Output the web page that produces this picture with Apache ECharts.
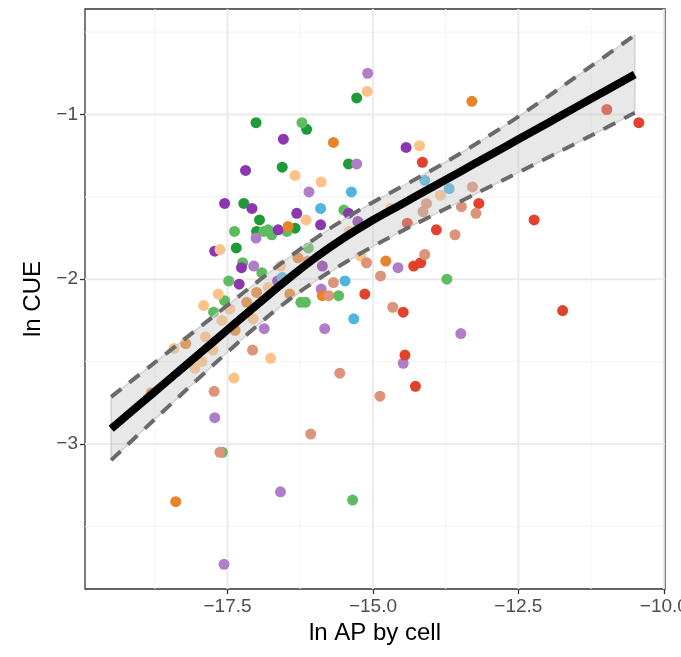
<!DOCTYPE html>
<html><head><meta charset="utf-8">
<script src="https://cdn.jsdelivr.net/npm/echarts@6/dist/echarts.min.js"></script>
<style>html,body{margin:0;padding:0;background:#fff}#c{width:681px;height:657px}</style>
</head><body><div id="c"></div>
<script>
// axis ticks / gridlines
const xTicks = [-17.5, -15, -12.5, -10];
const xMinorGrid = [-18.75, -16.25, -13.75, -11.25];
const yTicks = [-3, -2, -1];
const yMinorGrid = [-3.5, -2.5, -1.5, -0.5];
const xRange = [-19.95, -9.98];
const yRange = [-3.88, -0.36];

// smooth fit and confidence band
const fitX    = [-19.5,-19,-18.5,-18,-17.5,-17,-16.5,-16,-15.5,-15,-14.5,-14,-13.5,-13,-12.5,-12,-11.5,-11,-10.5];
const fitMid  = [-2.907,-2.757,-2.607,-2.457,-2.307,-2.157,-2.010,-1.872,-1.749,-1.641,-1.543,-1.445,-1.347,-1.249,-1.151,-1.053,-0.954,-0.856,-0.758];
const fitHigh = [-2.714,-2.575,-2.436,-2.297,-2.158,-2.019,-1.883,-1.755,-1.638,-1.533,-1.437,-1.340,-1.237,-1.128,-1.013,-0.893,-0.769,-0.644,-0.519];
const fitLow  = [-3.098,-2.932,-2.767,-2.603,-2.442,-2.285,-2.140,-2.014,-1.903,-1.801,-1.707,-1.617,-1.528,-1.440,-1.352,-1.263,-1.173,-1.082,-0.990];

// points by group [ln AP, ln CUE]
const darkGreen = [[-17.01,-1.05],[-16.14,-1.09],[-15.28,-0.90],[-15.42,-1.30],[-16.56,-1.32],[-17.22,-1.54],[-16.95,-1.64],[-17.00,-1.71],[-16.34,-1.69],[-17.35,-1.81]];
const lightGreen = [[-16.22,-1.05],[-15.50,-1.58],[-17.38,-1.71],[-16.80,-1.70],[-16.74,-1.73],[-16.88,-1.71],[-16.48,-1.71],[-17.24,-1.90],[-16.91,-1.96],[-17.48,-2.01],[-17.55,-2.13],[-17.74,-2.20],[-16.24,-2.14],[-16.16,-2.14],[-15.59,-2.10],[-13.73,-2.00],[-15.35,-3.34],[-17.59,-3.05],[-16.11,-1.81]];
const purple = [[-16.54,-1.15],[-17.19,-1.34],[-17.55,-1.54],[-17.08,-1.57],[-16.31,-1.60],[-15.26,-1.65],[-15.42,-1.60],[-15.90,-1.67],[-16.63,-1.70],[-17.72,-1.83],[-17.26,-1.93],[-15.87,-1.92],[-17.30,-2.03],[-16.64,-2.01],[-14.43,-1.20]];
const lightPurple = [[-15.09,-0.75],[-15.28,-1.30],[-16.10,-1.47],[-17.01,-1.75],[-17.05,-1.92],[-15.89,-2.06],[-16.87,-2.30],[-15.83,-2.30],[-17.72,-2.84],[-17.56,-3.73],[-16.59,-3.29],[-14.57,-1.93],[-13.49,-2.33],[-14.48,-2.51]];
const orange = [[-15.68,-1.17],[-13.30,-0.92],[-16.46,-1.68],[-16.29,-1.87],[-17.00,-2.08],[-16.43,-2.09],[-15.87,-2.10],[-17.17,-2.14],[-17.37,-2.31],[-18.22,-2.39],[-18.81,-2.69],[-18.39,-3.35],[-14.78,-1.89]];
const lightOrange = [[-15.10,-0.86],[-16.34,-1.37],[-15.89,-1.41],[-16.15,-1.64],[-15.41,-1.71],[-17.63,-1.82],[-16.59,-1.92],[-17.66,-2.09],[-16.80,-2.05],[-17.91,-2.16],[-17.46,-2.18],[-17.60,-2.25],[-17.06,-2.24],[-17.88,-2.35],[-18.42,-2.42],[-17.75,-2.43],[-16.76,-2.48],[-17.94,-2.50],[-18.06,-2.54],[-17.39,-2.60],[-14.20,-1.19],[-13.84,-1.49],[-14.69,-1.57],[-15.21,-1.86]];
const blue = [[-15.37,-1.47],[-15.90,-1.57],[-15.48,-2.01],[-15.33,-2.24],[-14.11,-1.40],[-13.69,-1.45],[-16.56,-1.99]];
const red = [[-15.14,-2.09],[-14.15,-1.29],[-14.41,-1.66],[-13.91,-1.70],[-13.18,-1.54],[-12.23,-1.64],[-14.30,-1.92],[-14.18,-1.90],[-14.48,-2.20],[-14.45,-2.46],[-14.27,-2.65],[-11.74,-2.19],[-10.98,-0.97],[-10.43,-1.05]];
const salmon = [[-15.68,-2.02],[-15.76,-2.10],[-17.07,-2.43],[-17.73,-2.68],[-17.63,-3.05],[-16.07,-2.94],[-15.57,-2.57],[-14.88,-2.71],[-15.11,-1.90],[-14.87,-1.98],[-14.11,-1.85],[-14.66,-2.17],[-13.29,-1.44],[-14.08,-1.54],[-14.14,-1.59],[-13.48,-1.56],[-13.23,-1.60],[-13.59,-1.73],[-16.12,-1.89]];

const groups = [
  ['darkGreen', darkGreen, '#1f9a38'],
  ['lightGreen', lightGreen, '#5dbd5e'],
  ['purple', purple, '#8c36b0'],
  ['lightPurple', lightPurple, '#b07dc8'],
  ['orange', orange, '#e8842c'],
  ['lightOrange', lightOrange, '#fdc287'],
  ['blue', blue, '#4db5e1'],
  ['red', red, '#e2412c'],
  ['salmon', salmon, '#de937b']
];

const FONT = "'Liberation Sans', Arial, sans-serif";
const fmtY = v => String(Math.round(v)).replace('-', '\u2212');
const fmtX = v => v.toFixed(1).replace('-', '\u2212');

const chart = echarts.init(document.getElementById('c'), null, {renderer: 'canvas'});

function gridLineSeries(vals, dir, color, width) {
  return {
    type: 'custom', z: 1, silent: true, clip: true,
    data: vals.map(v => [v]),
    renderItem: function (params, api) {
      const v = api.value(0);
      let p1, p2;
      if (dir === 'v') { p1 = api.coord([v, yRange[0]]); p2 = api.coord([v, yRange[1]]); }
      else { p1 = api.coord([xRange[0], v]); p2 = api.coord([xRange[1], v]); }
      return {type: 'line', shape: {x1: p1[0], y1: p1[1], x2: p2[0], y2: p2[1]},
              style: {stroke: color, lineWidth: width}};
    }
  };
}

const series = [];
series.push(gridLineSeries(xMinorGrid, 'v', '#f3f3f3', 1));
series.push(gridLineSeries(yMinorGrid, 'h', '#f3f3f3', 1));
series.push(gridLineSeries(xTicks, 'v', '#ebebeb', 2));
series.push(gridLineSeries(yTicks, 'h', '#ebebeb', 2));

groups.forEach(g => {
  series.push({
    name: g[0], type: 'scatter', z: 3, data: g[1], symbol: 'circle', symbolSize: 11,
    itemStyle: {color: g[2], opacity: 1}, silent: true
  });
});

// confidence band polygon
series.push({
  type: 'custom', z: 4, silent: true,
  data: [[0]],
  renderItem: function (params, api) {
    const pts = [];
    for (let i = 0; i < fitX.length; i++) pts.push(api.coord([fitX[i], fitHigh[i]]));
    for (let i = fitX.length - 1; i >= 0; i--) pts.push(api.coord([fitX[i], fitLow[i]]));
    return {type: 'polygon', shape: {points: pts},
            style: {fill: 'rgba(195,195,195,0.38)', stroke: 'rgba(205,205,205,0.9)', lineWidth: 1.5, lineJoin: 'round'}};
  }
});

const dashStyle = {color: '#6a6a6a', width: 4, type: [13, 10]};
series.push({type: 'line', z: 5, silent: true, symbol: 'none', data: fitX.map((x, i) => [x, fitHigh[i]]), lineStyle: dashStyle, smooth: 0.5});
series.push({type: 'line', z: 5, silent: true, symbol: 'none', data: fitX.map((x, i) => [x, fitLow[i]]), lineStyle: dashStyle, smooth: 0.5});
series.push({type: 'line', z: 6, silent: true, symbol: 'none', data: fitX.map((x, i) => [x, fitMid[i]]),
  lineStyle: {color: '#000', width: 8, cap: 'butt'}, smooth: 0.5});

chart.setOption({
  animation: false,
  backgroundColor: '#fff',
  grid: {left: 85, right: 16, top: 9, bottom: 68, show: true, borderColor: '#333333', borderWidth: 1.3,
         backgroundColor: 'transparent', containLabel: false, outerBoundsMode: 'none'},
  xAxis: {
    type: 'value', min: xRange[0], max: xRange[1],
    name: 'ln AP by cell', nameLocation: 'middle', nameGap: 32,
    nameTextStyle: {fontSize: 24, color: '#000', fontFamily: FONT},
    axisLine: {show: false},
    axisTick: {show: true, length: 5, lineStyle: {color: '#333', width: 1.3}, customValues: xTicks},
    axisLabel: {show: true, customValues: xTicks, formatter: fmtX, fontSize: 19, color: '#4d4d4d', fontFamily: FONT, margin: 8, hideOverlap: false, showMinLabel: true, showMaxLabel: true},
    splitLine: {show: false}
  },
  yAxis: {
    type: 'value', min: yRange[0], max: yRange[1],
    name: 'ln CUE', nameLocation: 'middle', nameGap: 35, nameRotate: 90,
    nameTextStyle: {fontSize: 24, color: '#000', fontFamily: FONT},
    axisLine: {show: false},
    axisTick: {show: true, length: 5, lineStyle: {color: '#333', width: 1.3}, customValues: yTicks},
    axisLabel: {show: true, customValues: yTicks, formatter: fmtY, fontSize: 19, color: '#4d4d4d', fontFamily: FONT, margin: 7},
    splitLine: {show: false}
  },
  series: series
});
</script>
</body></html>
